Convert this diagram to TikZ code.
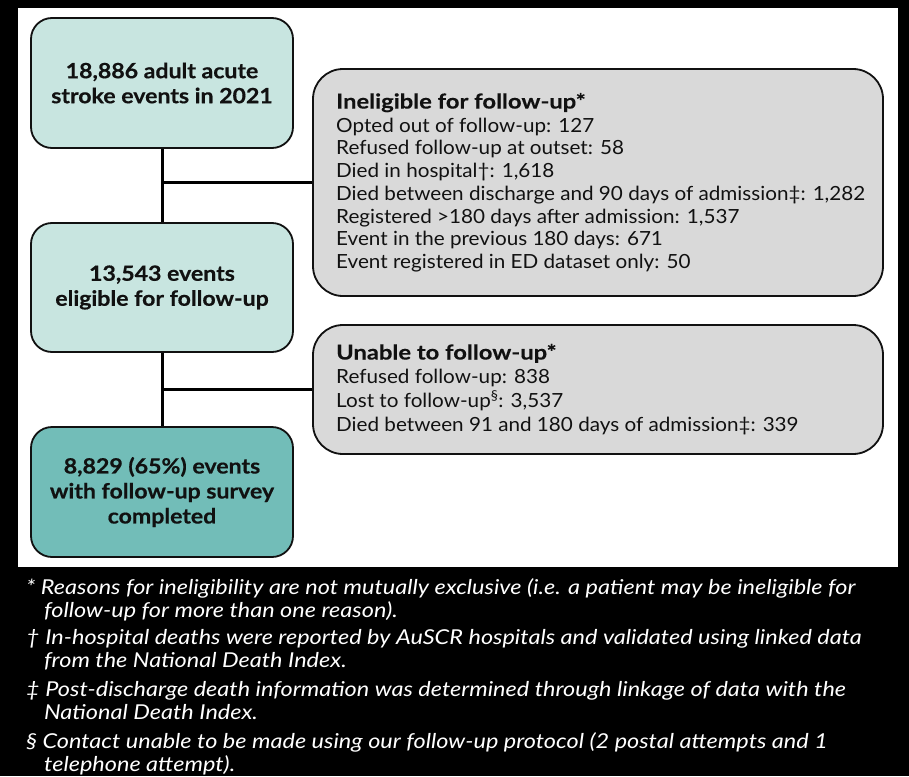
\documentclass[tikz,border=0pt]{standalone}
\usepackage{fontspec}
\setmainfont{Lato}
\newfontfamily\boxfont[FakeStretch=1.10,BoldFeatures={FakeBold=0.5}]{Lato}
\newfontfamily\greyfont[FakeStretch=1.06]{Lato}
\newfontfamily\headfont[FakeStretch=1.16,BoldFeatures={FakeBold=0.3}]{Lato}
\newfontfamily\notefont[FakeStretch=1.145]{Lato}
\definecolor{tealL}{HTML}{C8E5E0}
\definecolor{tealD}{HTML}{72BDB8}
\definecolor{greyB}{HTML}{D9D9D9}
\definecolor{inkC}{HTML}{111111}
\begin{document}
\begin{tikzpicture}[x=1pt,y=-1pt,
  mainbox/.style={draw=inkC, line width=1.8pt, rounded corners=21pt,
    minimum width=262pt, minimum height=130pt, align=center, inner sep=0pt,
    text=inkC, font=\boxfont\fontsize{21}{25}\selectfont\bfseries},
  greybox/.style={draw=inkC, line width=1.8pt, fill=greyB, rounded corners=30pt,
    minimum width=570pt, inner sep=0pt},
  greytext/.style={anchor=west, align=left, inner sep=0pt, text=inkC,
    font=\greyfont\fontsize{19.5}{22.7}\selectfont},
  conn/.style={line width=3pt, draw=black},
  note/.style={anchor=north west, align=left, inner sep=0pt, text=white,
    font=\notefont\fontsize{20.5}{23}\selectfont\itshape}]
\fill[black] (0,0) rectangle (909,776);
\fill[white] (18,8) rectangle (898,567);

\node[mainbox, fill=tealL] (b1) at (162,83) {18,886 adult acute\\stroke events in 2021};
\node[mainbox, fill=tealL, minimum height=129pt] (b2) at (162,287.5) {13,543 events\\eligible for follow-up};
\node[mainbox, fill=tealD] (b3) at (162,492) {8,829 (65\%) events\\with follow-up survey\\completed};

\node[greybox, minimum height=227pt] (g1) at (598,182.5) {};
\node[greybox, minimum height=129pt] (g2) at (598,389.5) {};

\node[greytext] (g1t) at (336,182.5) {{\headfont\bfseries\fontsize{20.5}{25}\selectfont Ineligible for follow-up*}\\[1pt]
Opted out of follow-up: 127\\
Refused follow-up at outset: 58\\
Died in hospital†: 1,618\\
Died between discharge and 90 days of admission‡: 1,282\\
Registered >180 days after admission: 1,537\\
Event in the previous 180 days: 671\\
Event registered in ED dataset only: 50};

\node[greytext, font=\greyfont\fontsize{19.5}{24}\selectfont] (g2t) at (336,389.5) {{\headfont\bfseries\fontsize{20.5}{25}\selectfont Unable to follow-up*}\\
Refused follow-up: 838\\
Lost to follow-up\textsuperscript{§}: 3,537\\
Died between 91 and 180 days of admission‡: 339};

\draw[conn] (b1.south) -- (b2.north);
\draw[conn] (b2.south) -- (b3.north);
\draw[conn] (b1.south |- g1.west) -- (g1.west);
\draw[conn] (b2.south |- g2.west) -- (g2.west);

\node[note] (n1) at (26,578) {* Reasons for ineligibility are not mutually exclusive (i.e. a patient may be ineligible for\\\hspace*{18pt}follow-up for more than one reason).};
\node[note] (n2) at (26,629) {† In-hospital deaths were reported by AuSCR hospitals and validated using linked data\\\hspace*{18pt}from the National Death Index.};
\node[note] (n3) at (26,681) {‡ Post-discharge death information was determined through linkage of data with the\\\hspace*{18pt}National Death Index.};
\node[note] (n4) at (26,732) {§ Contact unable to be made using our follow-up protocol (2 postal attempts and 1\\\hspace*{18pt}telephone attempt).};
\end{tikzpicture}
\end{document}
